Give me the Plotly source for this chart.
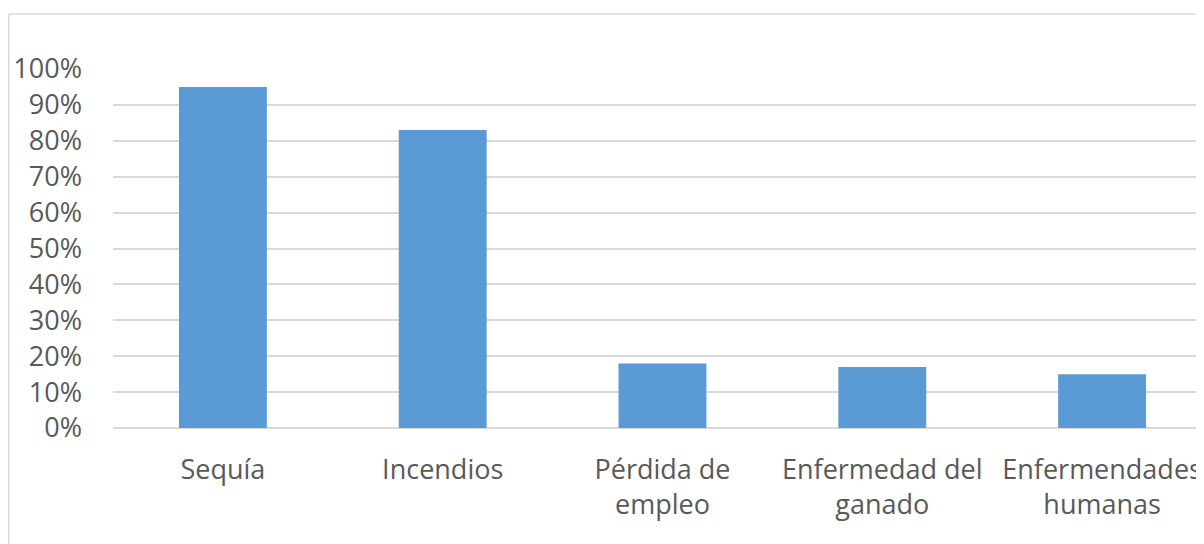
import plotly.graph_objects as go

# Data
categorias = ["Sequía", "Incendios", "Pérdida de<br>empleo",
              "Enfermedad del<br>ganado", "Enfermendades<br>humanas"]
porcentajes = [0.95, 0.83, 0.18, 0.17, 0.15]
y_ticks = [0, 0.1, 0.2, 0.3, 0.4, 0.5, 0.6, 0.7, 0.8, 0.9, 1.0]

COLOUR = {
    "bar":    "#5B9BD5",
    "grid":   "#D9D9D9",
    "text":   "#595959",
    "border": "#D9D9D9",
}

# the page body adds an 8px offset, so margins are measured from that
W, H = 1204, 544
L, R, T, B = 105, 0, 61, 124
plot_w = W - L - R
plot_h = H - T - B

fig = go.Figure()
fig.add_trace(go.Bar(
    x=list(range(len(categorias))), y=porcentajes,
    marker=dict(color=COLOUR["bar"], line=dict(width=0)),
    hoverinfo="skip",
))

# outer chart border (left + top only; right/bottom are cropped off)
bx = (0.75 - L) / plot_w
by = (H - B - 6) / plot_h
fig.add_shape(type="line", xref="paper", yref="paper",
              x0=bx, x1=bx, y0=-1, y1=by,
              line=dict(color=COLOUR["border"], width=1.5))
fig.add_shape(type="line", xref="paper", yref="paper",
              x0=bx, x1=1.1, y0=by, y1=by,
              line=dict(color=COLOUR["border"], width=1.5))

fig.update_layout(
    width=W, height=H,
    margin=dict(l=L, r=R, t=T, b=B, autoexpand=False),
    paper_bgcolor="white", plot_bgcolor="white",
    font=dict(family="Open Sans, sans-serif", size=27, color=COLOUR["text"]),
    showlegend=False,
    bargap=0.6,
    xaxis=dict(
        range=[-0.5, 4.5],
        tickmode="array",
        tickvals=list(range(len(categorias))),
        ticktext=categorias,
        showgrid=False, zeroline=False, showline=False,
        ticks="", ticklabelstandoff=23,
    ),
    yaxis=dict(
        range=[0, 1.0],
        tickmode="array", tickvals=y_ticks,
        tickformat=".0%",
        showgrid=True, gridcolor=COLOUR["grid"], gridwidth=1.5,
        zeroline=True, zerolinecolor=COLOUR["grid"], zerolinewidth=1.5,
        showline=False, ticks="", ticklabelstandoff=30,
    ),
)

fig.write_html("out.html")
